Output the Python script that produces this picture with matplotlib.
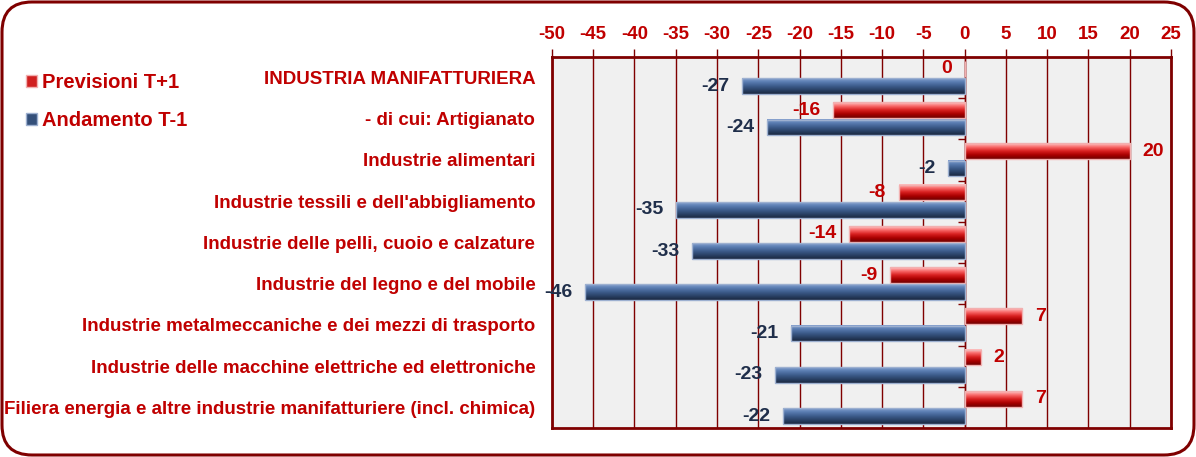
import numpy as np
import matplotlib
matplotlib.use("Agg")
import matplotlib.pyplot as plt
from matplotlib.colors import LinearSegmentedColormap
from matplotlib.patches import FancyBboxPatch, Patch

plt.rcParams['font.family'] = ['Liberation Sans', 'DejaVu Sans']
plt.rcParams['font.weight'] = 'bold'
plt.rcParams['axes.unicode_minus'] = False

# data
categories = [
    "INDUSTRIA MANIFATTURIERA",
    "- di cui: Artigianato",
    "Industrie alimentari",
    "Industrie tessili e dell'abbigliamento",
    "Industrie delle pelli, cuoio e calzature",
    "Industrie del legno e del mobile",
    "Industrie metalmeccaniche e dei mezzi di trasporto",
    "Industrie delle macchine elettriche ed elettroniche",
    "Filiera energia e altre industrie manifatturiere (incl. chimica)",
]
previsioni = [0, -16, 20, -8, -14, -9, 7, 2, 7]
andamento = [-27, -24, -2, -35, -33, -46, -21, -23, -22]
series_names = ["Previsioni T+1", "Andamento T-1"]
x_ticks = list(range(-50, 30, 5))

RED_TXT = '#C00000'
DARK_RED = '#7F0000'
NAVY_TXT = '#1F2E4A'

red_cmap = LinearSegmentedColormap.from_list('r', ['#FFC8C8', '#F86868', '#D82020', '#A80000', '#700000'])
blue_cmap = LinearSegmentedColormap.from_list('b', ['#86A2D0', '#587BB0', '#3D5C8C', '#2A4266', '#1A2740'])

fig = plt.figure(figsize=(11.96, 4.57), dpi=100)
fig.patch.set_facecolor('white')
border = FancyBboxPatch((0.02, 0.02), 11.92, 4.53, boxstyle="round,pad=0,rounding_size=0.3",
                        transform=fig.dpi_scale_trans, facecolor='none', edgecolor=DARK_RED,
                        linewidth=2.2, zorder=0)
fig.patches.append(border)

ax = fig.add_axes([0.4615, 0.0635, 0.5176, 0.812])
ax.set_facecolor('#F0F0F0')

y = np.arange(len(categories))
off = 0.21
h = 0.38
bars_p = ax.barh(y - off, previsioni, height=h, facecolor='none', edgecolor='#F2B0B0', linewidth=1, zorder=4)
bars_a = ax.barh(y + off, andamento, height=h, facecolor='none', edgecolor='#9DB0D0', linewidth=1, zorder=4)

grad = np.linspace(0, 1, 64).reshape(-1, 1)
for bars, cmap in ((bars_p, red_cmap), (bars_a, blue_cmap)):
    for p in bars:
        x0, w = p.get_x(), p.get_width()
        if w == 0:
            continue
        y0, hh = p.get_y(), p.get_height()
        ax.imshow(grad, extent=(x0, x0 + w, y0 + hh, y0), origin='upper', cmap=cmap,
                  aspect='auto', zorder=3, interpolation='bilinear')

# value labels
for bars, vals, col in ((bars_p, previsioni, RED_TXT), (bars_a, andamento, NAVY_TXT)):
    for p, v in zip(bars, vals):
        yc = p.get_y() + p.get_height() / 2
        if v > 0:
            ax.annotate(f"{v}", (v, yc), xytext=(9, 0), textcoords='offset points',
                        ha='left', va='center', color=col, fontsize=14, fontweight='bold', zorder=5)
        else:
            ax.annotate(f"{v}", (v, yc), xytext=(-9, 0), textcoords='offset points',
                        ha='right', va='center', color=col, fontsize=14, fontweight='bold', zorder=5)

ax.set_xlim(-50, 25)
ax.set_ylim(len(categories) - 0.5, -0.5)
ax.xaxis.tick_top()
ax.set_xticks(x_ticks)
ax.tick_params(axis='x', colors=DARK_RED, labelcolor=RED_TXT, labelsize=13.5, length=6, width=1, pad=4)
for lab in ax.get_xticklabels():
    lab.set_fontweight('bold')
ax.grid(axis='x', color=DARK_RED, linewidth=1, zorder=1)
ax.set_axisbelow(True)

ax.set_yticks(y)
ax.set_yticklabels(categories, fontsize=13.5, fontweight='bold', color=RED_TXT)
ax.tick_params(axis='y', length=0, pad=12)

for s in ax.spines.values():
    s.set_color(DARK_RED)
    s.set_linewidth(2)

# small ticks on the zero line between categories
zero_pos = (0 - x_ticks[0]) / (x_ticks[-1] - x_ticks[0])
sec = ax.secondary_yaxis(zero_pos)
sec.set_yticks(np.arange(len(categories) - 1) + 0.5)
sec.set_yticklabels([])
sec.tick_params(axis='y', length=5, width=1, color=DARK_RED, direction='in')
for s in sec.spines.values():
    s.set_color(DARK_RED)
    s.set_linewidth(1)

handles = [Patch(facecolor='#D02020', edgecolor='#F2B0B0'),
           Patch(facecolor='#34507A', edgecolor='#9DB0D0')]
fig.legend(handles, series_names, loc='upper left', bbox_to_anchor=(0.022, 0.84),
           frameon=False, labelcolor=RED_TXT, prop={'weight': 'bold', 'size': 14.5},
           handlelength=0.55, handleheight=0.55, handletextpad=0.25, labelspacing=0.95,
           borderpad=0, borderaxespad=0)

fig.savefig('out.png', dpi=100)
